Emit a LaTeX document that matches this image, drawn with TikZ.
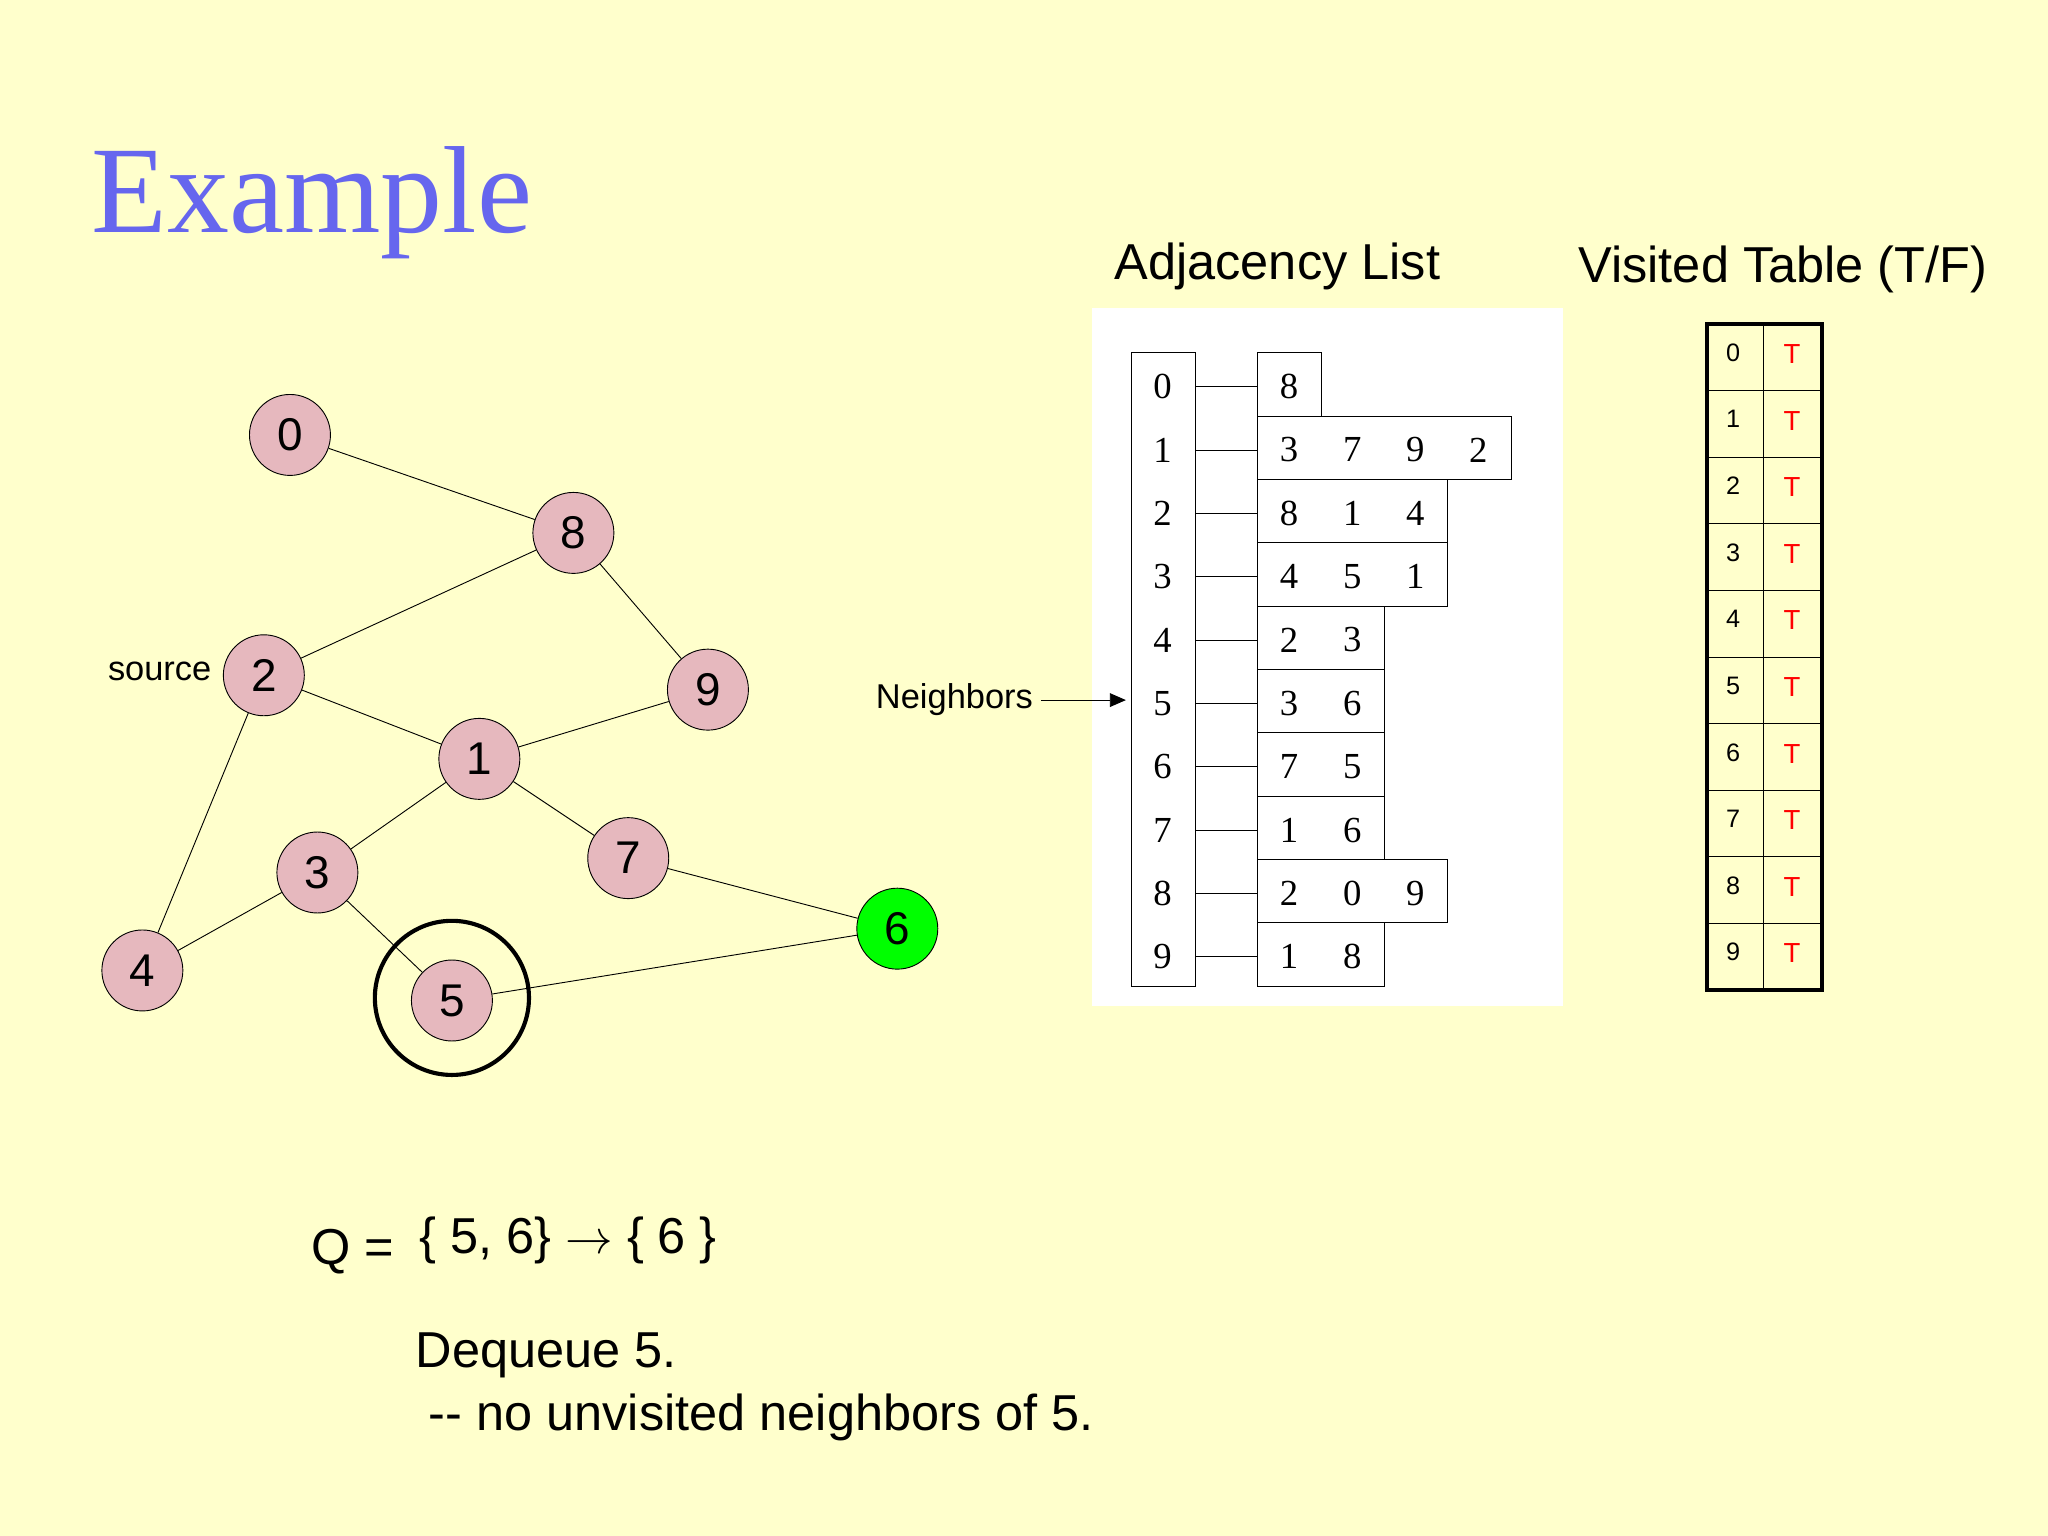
\documentclass[tikz,border=0pt]{standalone}
\usepackage{fontspec}
\usetikzlibrary{arrows.meta}
\setmainfont{Liberation Sans}
\newfontfamily\serif{Liberation Serif}
\begin{document}
\begin{tikzpicture}[x=0.02cm,y=-0.02cm,
  v/.style={circle,draw,fill=pinkv,minimum size=1.24cm,inner sep=0pt,font=\fontsize{20}{20}\selectfont},
  fs/.style={font=\fontsize{#1}{#1}\selectfont},
  ad/.style={font=\serif\fontsize{16}{16}\selectfont}]
\definecolor{bg}{RGB}{255,255,204}
\definecolor{pinkv}{RGB}{230,184,190}
\definecolor{ttl}{RGB}{102,102,238}
\fill[bg] (0,0) rectangle (1568,1176);
\useasboundingbox (0,0) rectangle (1568,1176);
\node[font=\serif\fontsize{54}{54}\selectfont,text=ttl,anchor=west] (title) at (64,155) {Example};
% graph
\node[v] (n0) at (222,333) {0};
\node[v] (n8) at (439,408) {8};
\node[v] (n2) at (202,517) {2};
\node[v] (n9) at (542,528) {9};
\node[v] (n1) at (367,581) {1};
\node[v] (n7) at (481,657) {7};
\node[v] (n3) at (243,668) {3};
\node[v,fill=green] (n6) at (687,711) {6};
\node[v] (n4) at (109,743) {4};
\node[v] (n5) at (346,766) {5};
\draw[line width=1.8pt] (346,764) circle (59);
\foreach \a/\b in {0/8,8/2,8/9,2/1,1/9,2/4,1/3,1/7,3/4,3/5,7/6,5/6}
  \draw (n\a) -- (n\b);
\node[fs=15,anchor=east] (src) at (168,514) {source};
% adjacency
\node[fs=22] (adjt) at (978,204) {Adjacency List};
\fill[white] (836,236) rectangle (1197,770);
\draw (866,270) rectangle (915,755);
\foreach \i/\n/\l in {0/1/{8},1/4/{3,7,9,2},2/3/{8,1,4},3/3/{4,5,1},4/2/{2,3},5/2/{3,6},6/2/{7,5},7/2/{1,6},8/3/{2,0,9},9/2/{1,8}}{
  \pgfmathsetmacro{\yt}{270+48.5*\i}
  \pgfmathsetmacro{\yc}{\yt+26}
  \node[ad] (ix\i) at (890,\yc) {\i};
  \draw (915,\yc) -- (963,\yc);
  \draw (963,\yt) rectangle ({963+48.5*\n},{\yt+48.5});
  \foreach \d [count=\k from 0] in \l
    \node[ad] at ({987+48.3*\k},\yc) {\d};
}
\node[fs=15,anchor=east] (nb) at (797,536) {Neighbors};
\coordinate (nbend) at (862,536);
\draw[-{Triangle[length=7pt,width=6pt]}] (nb.east) -- (nbend);
% visited
\node[fs=22] (vt) at (1365,206) {Visited Table (T/F)};
\foreach \i in {0,...,9}{
  \pgfmathsetmacro{\yt}{248+51*\i}
  \draw (1307,\yt) rectangle (1350,{\yt+51});
  \draw (1350,\yt) rectangle (1395,{\yt+51});
  \node[fs=11] at (1327,{\yt+22}) {\i};
  \node[fs=12,text=red] at (1372,{\yt+23}) {T};
}
\draw[line width=2pt] (1307,248) rectangle (1395,758);
% text
\node[fs=22] (q) at (270,958) {Q =};
\node[fs=22] (qs) at (435,950) {\{ 5, 6\} $\rightarrow$ \{ 6 \}};
\node[fs=22,anchor=west] (dq) at (312,1038) {Dequeue 5.};
\node[fs=22,anchor=west] (nn) at (322,1085) {{-}{-} no unvisited neighbors of 5.};
\end{tikzpicture}
\end{document}
